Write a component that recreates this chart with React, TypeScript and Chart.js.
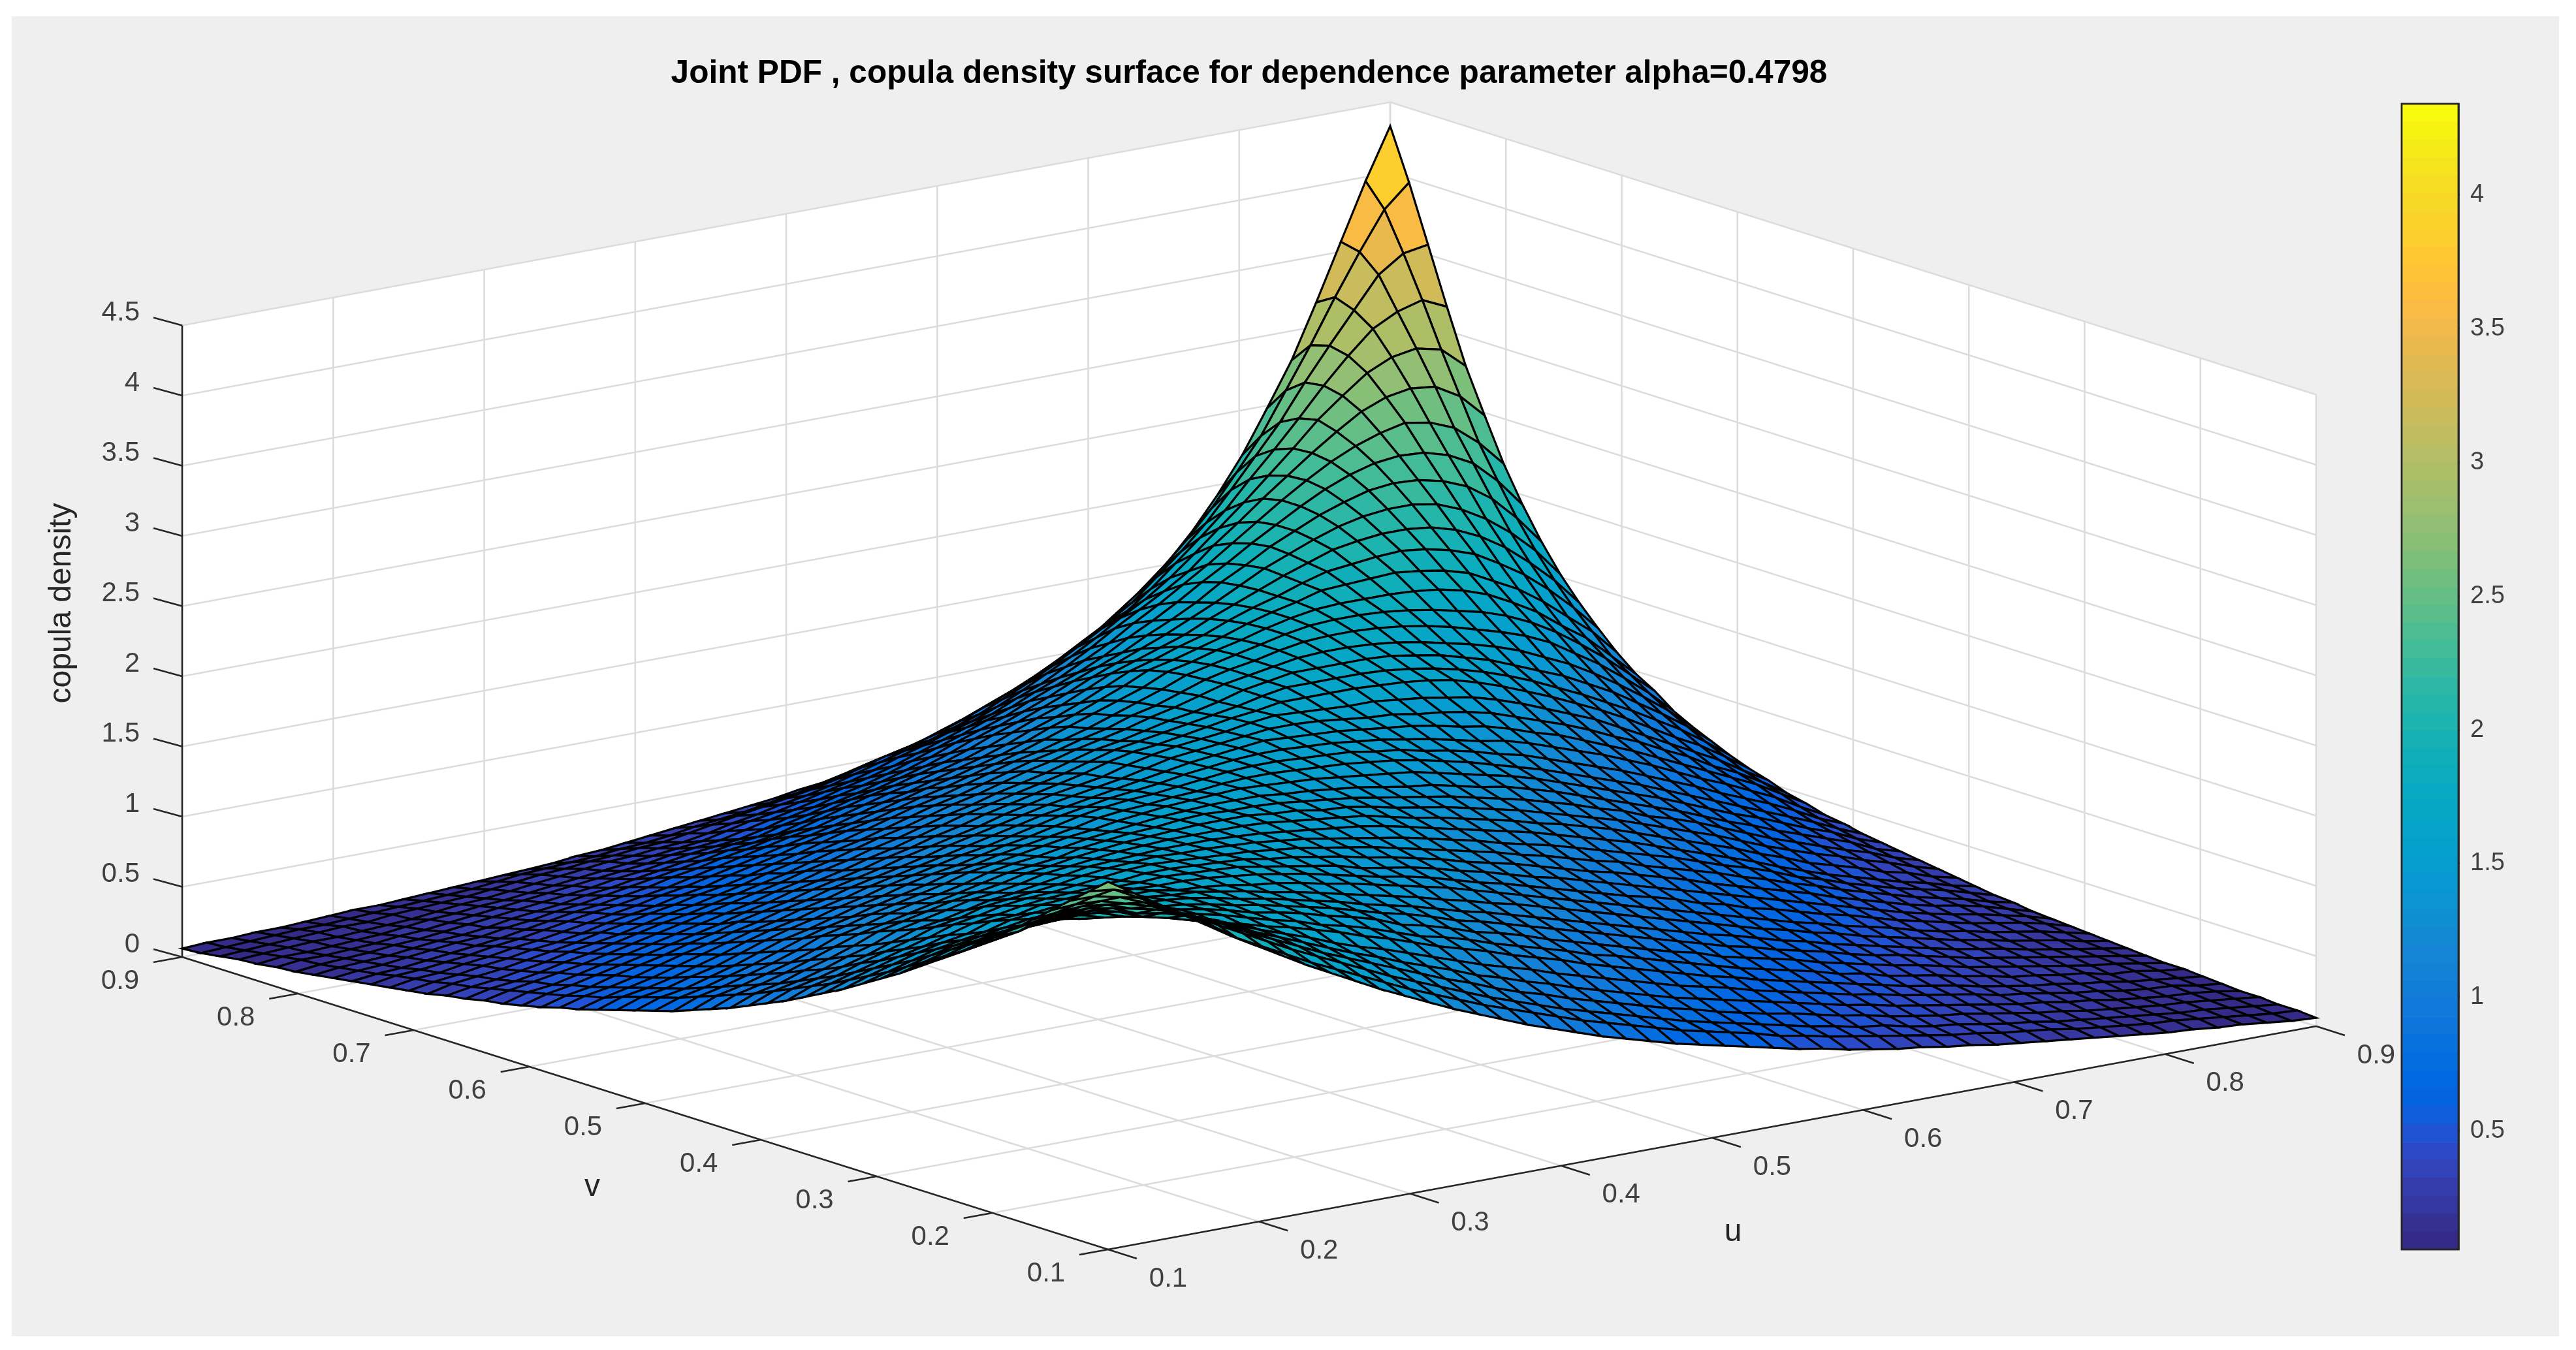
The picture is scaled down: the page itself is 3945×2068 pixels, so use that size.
import React, { useEffect, useRef } from "react";
import { Chart, registerables } from "chart.js";

Chart.register(...registerables);

const titleText = "Joint PDF , copula density surface for dependence parameter alpha=0.4798";
const uTicks = [0.1, 0.2, 0.3, 0.4, 0.5, 0.6, 0.7, 0.8, 0.9];
const vTicks = [0.1, 0.2, 0.3, 0.4, 0.5, 0.6, 0.7, 0.8, 0.9];
const zTicks = [0, 0.5, 1, 1.5, 2, 2.5, 3, 3.5, 4, 4.5];

const gridValues = [
  0.1, 0.1163, 0.1327, 0.149, 0.1653, 0.1816, 0.198, 0.2143, 0.2306, 0.2469,
  0.2633, 0.2796, 0.2959, 0.3122, 0.3286, 0.3449, 0.3612, 0.3776, 0.3939, 0.4102,
  0.4265, 0.4429, 0.4592, 0.4755, 0.4918, 0.5082, 0.5245, 0.5408, 0.5571, 0.5735,
  0.5898, 0.6061, 0.6224, 0.6388, 0.6551, 0.6714, 0.6878, 0.7041, 0.7204, 0.7367,
  0.7531, 0.7694, 0.7857, 0.802, 0.8184, 0.8347, 0.851, 0.8673, 0.8837, 0.9,
];

// density in hundredths, row i holds columns j = i..49 (surface is symmetric)
const surfaceRows = [
  [262,251,240,229,218,207,197,187,177,168,159,150,142,134,126,119,112,105,99,93,87,82,77,72,68,64,60,56,52,49,45,42,39,37,34,32,29,27,25,23,21,19,17,15,14,12,11,9,7,6],
  [249,240,230,220,210,198,189,180,171,163,155,147,139,132,125,118,112,106,100,94,89,84,79,74,70,66,62,57,54,50,47,44,41,38,35,33,30,28,26,23,21,19,17,16,14,12,10,8,7],
  [236,229,221,212,203,194,185,176,168,160,152,144,137,130,123,116,110,104,98,93,88,83,78,73,69,65,61,57,53,50,46,44,40,37,35,32,29,27,24,22,20,18,16,14,13,11,9,7],
  [224,219,212,204,196,187,179,171,163,156,149,142,135,128,122,115,109,104,98,93,88,83,78,74,69,65,61,58,54,50,47,43,40,37,35,32,29,26,24,21,19,17,15,14,12,10,8],
  [213,209,203,196,188,180,173,166,159,152,146,139,133,127,120,115,109,104,98,93,88,83,78,74,70,66,62,58,54,50,47,43,40,37,34,31,28,26,23,21,18,16,14,13,11,8],
  [202,199,194,188,181,174,168,162,155,149,144,138,132,126,120,115,110,104,99,94,89,84,79,75,71,66,62,58,54,50,47,43,40,37,34,30,28,25,22,20,17,15,14,11,9],
  [192,188,183,178,174,169,165,160,155,149,144,138,132,127,122,116,111,106,100,95,90,85,80,75,71,66,62,58,54,50,46,42,39,36,32,29,26,24,21,19,16,14,12,10],
  [187,184,180,176,171,166,162,156,152,147,141,135,131,126,120,115,110,105,99,95,90,85,80,75,70,66,62,58,53,50,45,42,39,35,32,28,26,23,21,17,16,13,11],
  [181,179,176,172,167,164,160,155,151,146,139,135,130,124,120,115,109,104,99,94,89,84,80,74,70,66,62,57,53,49,45,42,38,34,31,28,25,22,19,17,14,11],
  [177,175,172,168,165,161,157,153,148,143,139,134,128,124,119,114,109,104,99,94,89,84,79,74,70,65,61,57,52,48,45,41,37,33,30,27,24,21,18,15,12],
  [174,172,169,165,162,158,154,150,145,141,137,132,127,123,118,113,108,103,98,93,88,83,78,74,69,64,60,55,51,47,43,39,35,32,29,25,22,19,16,13],
  [170,169,166,163,159,156,152,148,144,140,136,131,127,122,118,113,108,103,98,93,88,83,78,73,68,64,59,55,50,46,42,38,34,31,27,24,21,17,14],
  [166,165,163,160,158,155,151,148,144,140,136,132,127,122,117,112,107,102,97,92,87,82,77,72,67,62,58,53,49,45,40,36,33,29,26,23,19,15],
  [165,164,162,160,157,154,150,146,142,139,135,130,125,121,116,111,106,101,96,92,87,81,77,71,67,62,57,53,48,43,39,35,31,28,25,21,16],
  [163,162,161,158,155,152,149,144,141,138,134,129,125,120,115,111,106,101,96,91,86,81,76,71,66,61,56,51,46,41,37,33,30,26,22,17],
  [161,160,159,156,154,151,148,144,141,137,133,128,124,120,115,110,105,101,96,91,86,80,75,70,65,60,54,49,44,39,35,32,28,23,18],
  [159,158,157,155,153,150,147,144,140,136,132,128,124,119,115,110,105,101,95,90,85,80,74,69,63,58,52,47,42,37,33,29,24,20],
  [158,157,156,154,152,149,146,143,140,136,132,128,123,119,115,110,105,100,95,90,84,78,73,67,60,55,49,44,39,35,31,26,21],
  [157,156,155,153,151,149,147,144,140,136,132,128,124,120,115,110,105,100,94,88,82,76,70,63,57,51,46,41,36,32,27,23],
  [156,156,155,153,151,149,147,143,139,136,132,128,124,119,115,110,105,99,93,87,81,75,68,62,55,50,45,39,35,29,25],
  [156,156,154,153,150,149,146,142,139,136,132,128,124,119,114,109,104,98,92,86,80,73,66,60,54,49,43,38,32,27],
  [155,155,154,152,150,148,145,142,139,136,132,128,124,119,114,108,103,96,91,85,78,71,64,58,52,46,41,34,29],
  [155,155,153,152,150,148,145,142,140,136,132,129,124,119,113,107,101,95,89,82,75,69,62,56,50,44,36,31],
  [156,155,154,153,151,149,147,145,141,137,133,129,124,118,112,106,100,94,87,80,73,67,60,53,47,39,33],
  [156,156,155,154,153,151,149,146,142,138,133,128,123,117,111,105,99,92,85,78,71,64,57,50,42,35],
  [157,157,156,155,154,151,149,145,142,138,133,129,123,117,111,105,98,91,84,76,69,62,54,45,38],
  [158,158,157,156,154,152,149,146,142,138,135,130,124,118,112,105,98,90,82,75,67,59,49,40],
  [160,159,158,157,155,153,151,148,144,141,136,130,125,118,111,104,96,88,80,72,64,54,44],
  [161,161,160,158,156,155,152,150,147,143,137,131,125,118,110,103,94,86,76,68,58,47],
  [163,162,161,160,160,158,156,153,150,145,139,132,125,118,109,100,91,82,73,62,52],
  [165,165,165,165,164,163,161,158,153,147,140,133,125,117,108,98,88,79,68,56],
  [168,168,168,168,167,165,162,158,153,147,140,132,124,115,106,96,86,74,61],
  [171,171,171,171,170,167,164,159,154,147,140,133,124,115,104,93,81,67],
  [174,175,175,174,172,169,165,161,156,150,142,134,124,113,101,88,73],
  [178,179,179,178,176,173,169,164,159,153,145,134,123,110,96,80],
  [182,183,183,182,180,177,173,169,163,155,145,133,120,105,90],
  [186,187,187,187,186,184,180,174,165,155,142,130,114,98],
  [192,193,194,195,193,190,185,176,167,155,141,127,109],
  [198,200,202,203,201,197,191,181,170,156,140,122],
  [206,209,211,211,209,204,196,185,171,155,136],
  [215,219,221,221,218,211,201,188,172,152],
  [225,230,232,231,227,220,208,191,171],
  [237,242,244,243,238,229,213,193],
  [250,256,260,257,250,236,218],
  [267,274,277,275,265,248],
  [287,295,298,294,279],
  [311,320,325,317],
  [342,354,357],
  [381,397],
  [433],
];

// MATLAB parula, 64 steps
const parula = [
  [0.2081,0.1663,0.5292],[0.2116,0.1898,0.5777],[0.2123,0.2138,0.627],[0.2081,0.2386,0.6771],
  [0.1959,0.2645,0.7279],[0.1707,0.2919,0.7792],[0.1253,0.3242,0.8303],[0.0591,0.3598,0.8683],
  [0.0117,0.3875,0.882],[0.006,0.4086,0.8828],[0.0165,0.4266,0.8786],[0.0329,0.443,0.872],
  [0.0498,0.4586,0.8641],[0.0629,0.4737,0.8554],[0.0723,0.4887,0.8467],[0.0779,0.504,0.8384],
  [0.0793,0.52,0.8312],[0.0749,0.5375,0.8263],[0.0641,0.557,0.824],[0.0488,0.5772,0.8228],
  [0.0343,0.5966,0.8199],[0.0265,0.6137,0.8135],[0.0239,0.6287,0.8038],[0.0231,0.6418,0.7913],
  [0.0228,0.6535,0.7768],[0.0267,0.6642,0.7607],[0.0384,0.6743,0.7436],[0.059,0.6838,0.7254],
  [0.0843,0.6928,0.7062],[0.1133,0.7015,0.6859],[0.1453,0.7098,0.6646],[0.1801,0.7177,0.6424],
  [0.2178,0.725,0.6193],[0.2586,0.7317,0.5954],[0.3022,0.7376,0.5712],[0.3482,0.7424,0.5473],
  [0.3953,0.7459,0.5244],[0.442,0.7481,0.5033],[0.4871,0.7491,0.484],[0.53,0.7491,0.4661],
  [0.5709,0.7485,0.4494],[0.6099,0.7473,0.4337],[0.6473,0.7456,0.4188],[0.6834,0.7435,0.4044],
  [0.7184,0.7411,0.3905],[0.7525,0.7384,0.3768],[0.7858,0.7356,0.3633],[0.8185,0.7327,0.3498],
  [0.8507,0.7299,0.336],[0.8824,0.7274,0.3217],[0.9139,0.7258,0.3063],[0.945,0.7261,0.2886],
  [0.9739,0.7314,0.2666],[0.9938,0.7455,0.2403],[0.999,0.7653,0.2164],[0.9955,0.7861,0.1967],
  [0.988,0.8066,0.1794],[0.9789,0.8271,0.1633],[0.9697,0.8481,0.1475],[0.9626,0.8705,0.1309],
  [0.9589,0.8949,0.1132],[0.9598,0.9218,0.0948],[0.9661,0.9514,0.0755],[0.9763,0.9831,0.0538],
].map((c) => `rgb(${Math.round(c[0] * 255)},${Math.round(c[1] * 255)},${Math.round(c[2] * 255)})`);

const W = 3945;
const H = 2068;
const colorMin = 0.058;
const colorMax = 4.34;
const textFont = "'Liberation Sans', Arial, sans-serif";

// orthographic view: front floor corner, the two floor edges, height of one z unit
const front = { x: 1697, y: 1914 };
const uEdge = { x: 1850, y: -342 };
const vEdge = { x: -1418, y: -448 };
const zUnit = 215;

const project = (u: number, v: number, z: number) => {
  const a = (u - 0.1) / 0.8;
  const b = (v - 0.1) / 0.8;
  return {
    x: front.x + a * uEdge.x + b * vEdge.x,
    y: front.y + a * uEdge.y + b * vEdge.y - z * zUnit,
  };
};

const density = (i: number, j: number) =>
  surfaceRows[Math.min(i, j)][Math.abs(i - j)] / 100;

const colorFor = (z: number) => {
  const k = Math.floor(((z - colorMin) / (colorMax - colorMin)) * 64);
  return parula[Math.max(0, Math.min(63, k))];
};

const lineSet = (pts: { x: number; y: number }[], color: string, width: number) => ({
  data: pts,
  showLine: true,
  fill: false,
  borderColor: color,
  borderWidth: width,
  pointRadius: 0,
});

const shapeSet = (pts: { x: number; y: number }[], color: string, edge: string, width: number) => ({
  data: [...pts, pts[0]],
  showLine: true,
  fill: "shape",
  backgroundColor: color,
  borderColor: edge,
  borderWidth: width,
  pointRadius: 0,
});

const buildDatasets = () => {
  const sets: any[] = [];
  // chart.js paints the last dataset first, so the nearest quads go first
  const n = gridValues.length;
  for (let s = 0; s <= 2 * (n - 2); s++) {
    for (let i = 0; i < n - 1; i++) {
      const j = s - i;
      if (j < 0 || j >= n - 1) continue;
      const corners = [
        project(gridValues[i], gridValues[j], density(i, j)),
        project(gridValues[i + 1], gridValues[j], density(i + 1, j)),
        project(gridValues[i + 1], gridValues[j + 1], density(i + 1, j + 1)),
        project(gridValues[i], gridValues[j + 1], density(i, j + 1)),
      ];
      sets.push(shapeSet(corners, colorFor(density(i, j)), "#000000", 3.2));
    }
  }

  const axisColor = "#262626";
  const gridColor = "#dcdcdc";
  const uDir = { x: -44, y: 8 };
  const vDir = { x: 44, y: 14 };
  const zDir = { x: -44, y: -12 };

  // axis lines and tick marks
  sets.push(lineSet([project(0.1, 0.9, 0), project(0.1, 0.1, 0), project(0.9, 0.1, 0)], axisColor, 2.6));
  sets.push(lineSet([project(0.1, 0.9, 0), project(0.1, 0.9, 4.5)], axisColor, 2.6));
  vTicks.forEach((v) => {
    const p = project(0.1, v, 0);
    sets.push(lineSet([p, { x: p.x + uDir.x, y: p.y + uDir.y }], axisColor, 2.6));
  });
  uTicks.forEach((u) => {
    const p = project(u, 0.1, 0);
    sets.push(lineSet([p, { x: p.x + vDir.x, y: p.y + vDir.y }], axisColor, 2.6));
  });
  zTicks.forEach((z) => {
    const p = project(0.1, 0.9, z);
    sets.push(lineSet([p, { x: p.x + zDir.x, y: p.y + zDir.y }], axisColor, 2.6));
  });

  // grid on the floor and the two back walls
  uTicks.forEach((u) => {
    sets.push(lineSet([project(u, 0.1, 0), project(u, 0.9, 0), project(u, 0.9, 4.5)], gridColor, 2.6));
  });
  vTicks.forEach((v) => {
    sets.push(lineSet([project(0.1, v, 0), project(0.9, v, 0), project(0.9, v, 4.5)], gridColor, 2.6));
  });
  zTicks.forEach((z) => {
    sets.push(lineSet([project(0.1, 0.9, z), project(0.9, 0.9, z), project(0.9, 0.1, z)], gridColor, 2.6));
  });

  // white panes
  sets.push(shapeSet([project(0.1, 0.1, 0), project(0.9, 0.1, 0), project(0.9, 0.9, 0), project(0.1, 0.9, 0)], "#ffffff", "#ffffff", 0));
  sets.push(shapeSet([project(0.1, 0.9, 0), project(0.9, 0.9, 0), project(0.9, 0.9, 4.5), project(0.1, 0.9, 4.5)], "#ffffff", "#ffffff", 0));
  sets.push(shapeSet([project(0.9, 0.9, 0), project(0.9, 0.1, 0), project(0.9, 0.1, 4.5), project(0.9, 0.9, 4.5)], "#ffffff", "#ffffff", 0));
  return sets;
};

const labelPlugin = {
  id: "axisText",
  afterDraw(chart: any) {
    const { ctx, scales } = chart;
    const put = (
      text: string,
      pos: { x: number; y: number },
      dx: number,
      dy: number,
      font: string,
      color: string,
      align: CanvasTextAlign,
    ) => {
      ctx.save();
      ctx.font = font;
      ctx.fillStyle = color;
      ctx.textAlign = align;
      ctx.textBaseline = "middle";
      ctx.fillText(text, scales.x.getPixelForValue(pos.x) + dx, scales.y.getPixelForValue(pos.y) + dy);
      ctx.restore();
    };
    const tickFont = `42px ${textFont}`;
    const labelFont = `48px ${textFont}`;
    zTicks.forEach((z) => put(String(z), { x: 214, y: project(0.1, 0.9, z).y }, 0, -19, tickFont, "#404040", "right"));
    vTicks.forEach((v) => put(v.toFixed(1), project(0.1, v, 0), -95, 37, tickFont, "#404040", "center"));
    uTicks.forEach((u) => put(u.toFixed(1), project(u, 0.1, 0), 92, 45, tickFont, "#404040", "center"));
    put("v", project(0.1, 0.5, 0), -81, 129, labelFont, "#262626", "center");
    put("u", project(0.5, 0.1, 0), 32, 145, labelFont, "#262626", "center");
    put(titleText, { x: 1913, y: 113 }, 0, 0, `bold 49.6px ${textFont}`, "#000000", "center");

    ctx.save();
    ctx.translate(scales.x.getPixelForValue(95), scales.y.getPixelForValue(924));
    ctx.rotate(-Math.PI / 2);
    ctx.font = labelFont;
    ctx.fillStyle = "#262626";
    ctx.textAlign = "center";
    ctx.textBaseline = "middle";
    ctx.fillText("copula density", 0, 0);
    ctx.restore();
  },
};

const barFrame = {
  id: "barFrame",
  afterDraw(chart: any) {
    const { ctx, chartArea } = chart;
    ctx.save();
    ctx.strokeStyle = "#262626";
    ctx.lineWidth = 2.8;
    ctx.strokeRect(chartArea.left, chartArea.top, chartArea.right - chartArea.left, chartArea.bottom - chartArea.top);
    ctx.restore();
  },
};

const App = () => {
  const chartRef = useRef<HTMLCanvasElement>(null);
  const barRef = useRef<HTMLCanvasElement>(null);

  useEffect(() => {
    if (!chartRef.current || !barRef.current) return;
    const surface = new Chart(chartRef.current, {
      type: "scatter",
      data: { datasets: buildDatasets() },
      options: {
        animation: false,
        responsive: false,
        devicePixelRatio: 1,
        events: [],
        layout: { padding: 0 },
        scales: {
          x: { type: "linear", display: false, min: 0, max: W },
          y: { type: "linear", display: false, min: 0, max: H, reverse: true },
        },
        plugins: { legend: { display: false }, tooltip: { enabled: false }, title: { display: false } },
      },
      plugins: [labelPlugin],
    } as any);

    const bandEdges = parula.map((color, k) => ({
      data: [[
        colorMin + (k * (colorMax - colorMin)) / 64,
        colorMin + ((k + 1) * (colorMax - colorMin)) / 64,
      ]],
      backgroundColor: color,
      borderWidth: 0,
      barPercentage: 1,
      categoryPercentage: 1,
      grouped: false,
    }));
    const colorbar = new Chart(barRef.current, {
      type: "bar",
      data: { labels: [""], datasets: bandEdges },
      options: {
        animation: false,
        responsive: false,
        devicePixelRatio: 1,
        events: [],
        layout: { padding: { top: 4, bottom: 4, left: 4, right: 0 } },
        scales: {
          x: { display: false },
          y: {
            position: "right",
            min: colorMin,
            max: colorMax,
            afterFit: (scale: any) => {
              scale.width = 150;
              scale.paddingTop = 0;
              scale.paddingBottom = 0;
            },
            border: { color: "#262626", width: 2.8 },
            grid: { drawOnChartArea: false, tickLength: -15, tickColor: "#262626", tickWidth: 2.8 },
            ticks: {
              stepSize: 0.5,
              includeBounds: false,
              padding: 33,
              color: "#404040",
              font: { size: 38, family: textFont },
              callback: (v: any) => String(v),
            },
          },
        },
        plugins: { legend: { display: false }, tooltip: { enabled: false } },
      },
      plugins: [barFrame],
    } as any);

    return () => {
      surface.destroy();
      colorbar.destroy();
    };
  }, []);

  return (
    <div style={{ position: "absolute", left: 0, top: 0, width: W, height: H, background: "#ffffff", overflow: "hidden" }}>
      <div style={{ position: "absolute", left: 18, top: 25, width: 3901, height: 2022, background: "#efefef" }} />
      <canvas ref={chartRef} width={W} height={H} style={{ position: "absolute", left: 0, top: 0, display: "block" }} />
      <canvas ref={barRef} width={241} height={1763} style={{ position: "absolute", left: 3674, top: 155, display: "block" }} />
    </div>
  );
};

export default App;
